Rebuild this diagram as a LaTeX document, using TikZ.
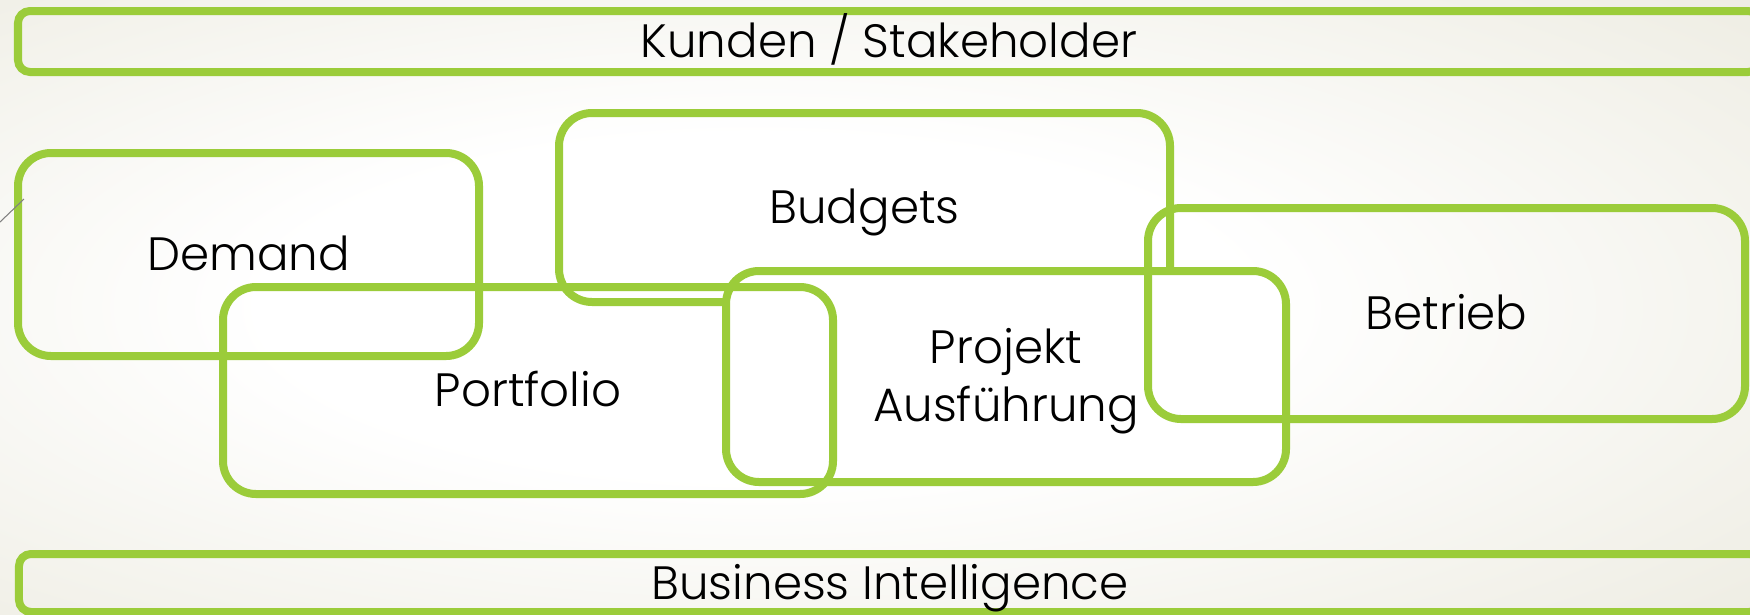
\documentclass[tikz,border=0pt]{standalone}
\usepackage{fontspec}
\setmainfont{Poppins}[UprightFont=* Light]
\definecolor{boxgreen}{RGB}{155,204,58}
\definecolor{slidebeige}{RGB}{229,227,212}
\pgfdeclareradialshading{slidebg}{\pgfpoint{-4bp}{0bp}}{color(0bp)=(white); color(14bp)=(white); color(50bp)=(slidebeige); color(100bp)=(slidebeige)}

\begin{document}
\begin{tikzpicture}[
  every node/.style={draw=boxgreen,line width=0.08cm,inner sep=0pt,
    font=\fontsize{13.3pt}{16.5pt}\selectfont,align=center,
    text height=9.3pt,text depth=0pt},
  bar/.style={rounded corners=0.12cm,minimum width=17.42cm},
  area/.style={rounded corners=0.33cm},
  ]
  \useasboundingbox (0,0) rectangle (17.5,6.14);
  \shade[shading=slidebg] (0,0) rectangle (17.5,6.14);
  \node(kunden)[bar,minimum height=0.61cm] at (8.89,5.725){Kunden / Stakeholder};
  \node(bi)[bar,minimum height=0.58cm] at (8.9,0.31){Business Intelligence};
  \node(demand)[area,minimum width=4.61cm,minimum height=2.03cm] at (2.485,3.595){Demand};
  \node(budgets)[area,minimum width=6.11cm,minimum height=1.89cm] at (8.645,4.065){Budgets};
  \node(projekt)[area,fill=white,text height=25.8pt,minimum width=5.6cm,minimum height=2.11cm] at (10.06,2.375){Projekt\\Ausführung};
  \node(portfolio)[area,minimum width=6.1cm,minimum height=2.07cm] at (5.28,2.235){Portfolio};
  \node(betrieb)[area,minimum width=5.97cm,minimum height=2.11cm] at (14.465,3.005){Betrieb};
  % stray stroke at the left edge
  \coordinate(stroke-a) at (0,3.92);
  \coordinate(stroke-b) at (0.24,4.15);
  \draw[gray,line width=0.3pt] (stroke-a) -- (stroke-b);
\end{tikzpicture}
\end{document}
